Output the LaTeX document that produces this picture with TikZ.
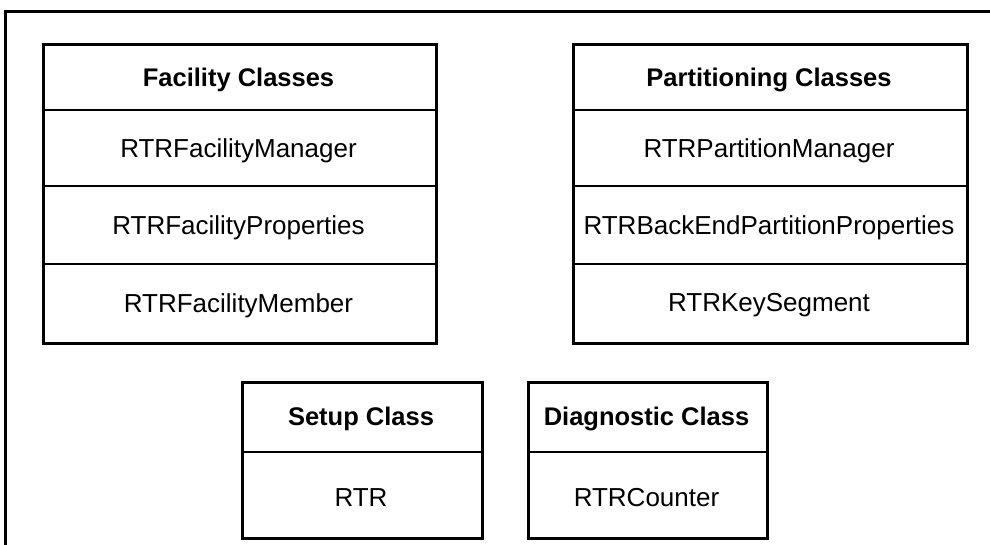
\documentclass[tikz,border=0pt]{standalone}
\usepackage{fontspec}
\setmainfont{Liberation Sans}
\begin{document}
\begin{tikzpicture}[x=1pt,y=-1pt,
  frame/.style={line width=2.6pt},
  classbox/.style={draw, line width=2.6pt, anchor=north west, inner sep=0pt},
  divider/.style={line width=1.2pt},
  head/.style={font=\fontsize{25.5}{30}\selectfont\bfseries, inner sep=0pt},
  item/.style={font=\fontsize{26}{30}\selectfont, inner sep=0pt}]
\useasboundingbox (0,0) rectangle (990,544);
% outer frame (open to right and bottom)
\coordinate (ftr) at (992,11.5);
\coordinate (ftl) at (5.5,11.5);
\coordinate (fbl) at (5.5,546);
\draw[frame] (ftr) -- (ftl) -- (fbl);
% Facility Classes
\node[classbox, minimum width=393pt, minimum height=299pt] (fac) at (42,43) {};
\node[head] (fach) at (238.5,79.5) {Facility Classes};
\node[item] (fac1) at (238.5,150.5) {RTRFacilityManager};
\node[item] (fac2) at (238.5,227.5) {RTRFacilityProperties};
\node[item] (fac3) at (238.5,305.5) {RTRFacilityMember};
\coordinate (fd1l) at (42,110); \coordinate (fd1r) at (435,110);
\coordinate (fd2l) at (42,186); \coordinate (fd2r) at (435,186);
\coordinate (fd3l) at (42,264); \coordinate (fd3r) at (435,264);
\draw[divider] (fd1l) -- (fd1r);
\draw[divider] (fd2l) -- (fd2r);
\draw[divider] (fd3l) -- (fd3r);
% Partitioning Classes
\node[classbox, minimum width=394pt, minimum height=299pt] (par) at (572,43) {};
\node[head] (parh) at (769,79.5) {Partitioning Classes};
\node[item] (par1) at (769,150.5) {RTRPartitionManager};
\node[item] (par2) at (769,227.5) {RTRBackEndPartitionProperties};
\node[item] (par3) at (769,305.5) {RTRKeySegment};
\coordinate (pd1l) at (572,110); \coordinate (pd1r) at (966,110);
\coordinate (pd2l) at (572,186); \coordinate (pd2r) at (966,186);
\coordinate (pd3l) at (572,264); \coordinate (pd3r) at (966,264);
\draw[divider] (pd1l) -- (pd1r);
\draw[divider] (pd2l) -- (pd2r);
\draw[divider] (pd3l) -- (pd3r);
% Setup Class
\node[classbox, minimum width=240pt, minimum height=156pt] (set) at (241,381) {};
\node[head] (seth) at (361,418.5) {Setup Class};
\node[item] (set1) at (361,497.5) {RTR};
\coordinate (sdl) at (241,452); \coordinate (sdr) at (481,452);
\draw[divider] (sdl) -- (sdr);
% Diagnostic Class
\node[classbox, minimum width=239pt, minimum height=156pt] (dia) at (527,381) {};
\node[head] (diah) at (646.5,418.5) {Diagnostic Class};
\node[item] (dia1) at (646.5,497.5) {RTRCounter};
\coordinate (ddl) at (527,452); \coordinate (ddr) at (766,452);
\draw[divider] (ddl) -- (ddr);
\end{tikzpicture}
\end{document}
